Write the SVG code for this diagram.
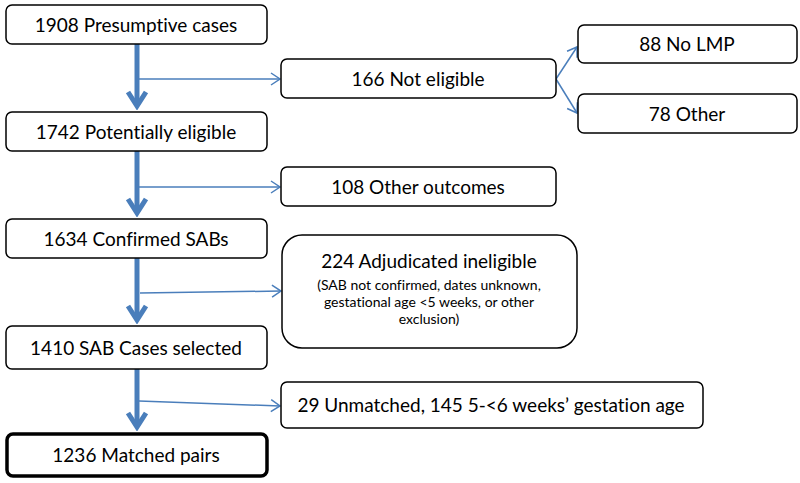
<svg xmlns="http://www.w3.org/2000/svg" width="800" height="483" viewBox="0 0 800 483">
<style>
.box{fill:#fff;stroke:#000;stroke-width:1.5}
.bold{fill:#fff;stroke:#000;stroke-width:3.5}
.t{font-family:Lato,"Open Sans",sans-serif;font-size:19px;fill:#000;text-anchor:middle;font-variant-ligatures:none;font-feature-settings:"liga" 0,"dlig" 0}
.s{font-family:Lato,"Open Sans",sans-serif;font-size:14px;fill:#000;text-anchor:middle;font-variant-ligatures:none;font-feature-settings:"liga" 0,"dlig" 0}
.main{stroke:#4a7ebb;stroke-width:5;fill:none}
.br{stroke:#4a7ebb;stroke-width:1.5;fill:none}
</style>
<defs>
<marker id="mThick" markerUnits="userSpaceOnUse" viewBox="-18 -12 22 24" markerWidth="22" markerHeight="24" refX="0" refY="0" orient="auto">
<path d="M-14,-9 L0,0 L-14,9" fill="none" stroke="#4a7ebb" stroke-width="5" stroke-linejoin="miter"/>
</marker>
<marker id="mThin" markerUnits="userSpaceOnUse" viewBox="-12 -8 14 16" markerWidth="14" markerHeight="16" refX="0" refY="0" orient="auto">
<path d="M-9,-6 L0,0 L-9,6" fill="none" stroke="#4a7ebb" stroke-width="1.5"/>
</marker>
</defs>
<g id="connectors">
<line class="main" x1="137" y1="44" x2="137" y2="106" marker-end="url(#mThick)"/>
<line class="main" x1="137" y1="151" x2="137" y2="213" marker-end="url(#mThick)"/>
<line class="main" x1="137" y1="258" x2="137" y2="320" marker-end="url(#mThick)"/>
<line class="main" x1="137" y1="369" x2="137" y2="427" marker-end="url(#mThick)"/>
<line class="br" x1="139" y1="79" x2="280" y2="79" marker-end="url(#mThin)"/>
<line class="br" x1="139" y1="187" x2="280" y2="187" marker-end="url(#mThin)"/>
<line class="br" x1="140" y1="293" x2="281" y2="291" marker-end="url(#mThin)"/>
<line class="br" x1="139" y1="401" x2="280" y2="406" marker-end="url(#mThin)"/>
<line class="br" x1="556" y1="79" x2="577" y2="47" marker-end="url(#mThin)"/>
<line class="br" x1="556" y1="79" x2="577" y2="113" marker-end="url(#mThin)"/>
</g>
<g id="n1908"><rect class="box" x="6" y="5" width="261" height="39" rx="6"/><text class="t" x="136" y="32">1908 Presumptive cases</text></g>
<g id="n166"><rect class="box" x="281" y="59" width="275" height="39" rx="6"/><text class="t" x="418" y="86">166 Not eligible</text></g>
<g id="n88"><rect class="box" x="578" y="25" width="219" height="38" rx="6"/><text class="t" x="687" y="51">88 No LMP</text></g>
<g id="n78"><rect class="box" x="578" y="94" width="219" height="39" rx="6"/><text class="t" x="687" y="121">78 Other</text></g>
<g id="n1742"><rect class="box" x="6" y="112" width="261" height="39" rx="6"/><text class="t" x="136" y="139">1742 Potentially eligible</text></g>
<g id="n108"><rect class="box" x="281" y="167" width="275" height="39" rx="6"/><text class="t" x="418" y="194">108 Other outcomes</text></g>
<g id="n1634"><rect class="box" x="6" y="219" width="261" height="39" rx="6"/><text class="t" x="136" y="246">1634 Confirmed SABs</text></g>
<g id="n224"><rect class="box" x="282" y="235" width="295" height="113" rx="20"/>
<text class="t" x="429" y="268">224 Adjudicated ineligible</text>
<text class="s" x="429" y="290">(SAB not confirmed, dates unknown,</text>
<text class="s" x="429" y="307">gestational age &lt;5 weeks, or other</text>
<text class="s" x="429" y="324">exclusion)</text></g>
<g id="n1410"><rect class="box" x="6" y="326" width="261" height="43" rx="6"/><text class="t" x="136" y="355">1410 SAB Cases selected</text></g>
<g id="n29"><rect class="box" x="281" y="382" width="422" height="46" rx="6"/><text class="t" x="491" y="412">29 Unmatched, 145 5-&lt;6 weeks’ gestation age</text></g>
<g id="n1236"><rect class="bold" x="7" y="434" width="260" height="42" rx="6"/><text class="t" x="136" y="462">1236 Matched pairs</text></g>
</svg>
